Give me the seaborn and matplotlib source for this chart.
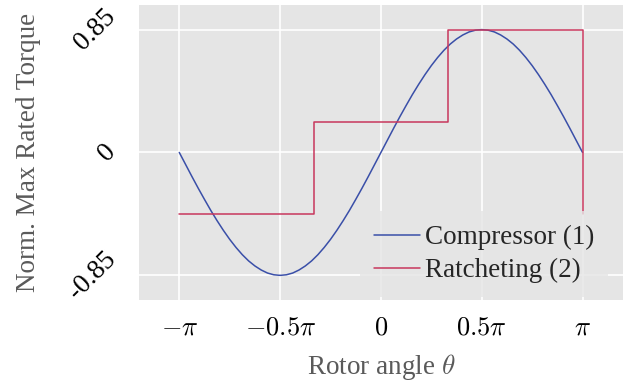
import numpy as np
import pandas as pd
import matplotlib
matplotlib.use("Agg")
import matplotlib.pyplot as plt
import seaborn as sns

# -----------------------------
# DATA
# -----------------------------
# rotor angle in units of pi, step pi/32
angle_pi = [k / 32 - 1 for k in range(65)]
compressor = [
    0.0, -0.083, -0.166, -0.247, -0.325, -0.401, -0.472, -0.539,
    -0.601, -0.657, -0.707, -0.750, -0.785, -0.813, -0.834, -0.846,
    -0.85, -0.846, -0.834, -0.813, -0.785, -0.750, -0.707, -0.657,
    -0.601, -0.539, -0.472, -0.401, -0.325, -0.247, -0.166, -0.083,
    0.0, 0.083, 0.166, 0.247, 0.325, 0.401, 0.472, 0.539,
    0.601, 0.657, 0.707, 0.750, 0.785, 0.813, 0.834, 0.846,
    0.85, 0.846, 0.834, 0.813, 0.785, 0.750, 0.707, 0.657,
    0.601, 0.539, 0.472, 0.401, 0.325, 0.247, 0.166, 0.083,
    0.0,
]
ratchet_angle_pi = [-1, -1 / 3, -1 / 3, 1 / 3, 1 / 3, 1, 1]
ratchet = [-0.425, -0.425, 0.2125, 0.2125, 0.85, 0.85, -0.425]

xtick_vals = [-1, -0.5, 0, 0.5, 1]
xtick_labels = [r"$-\pi$", r"$-0.5\pi$", r"$0$", r"$0.5\pi$", r"$\pi$"]
ytick_vals = [-0.85, 0, 0.85]
ytick_labels = ["-0.85", "0", "0.85"]

df_comp = pd.DataFrame({"theta": np.array(angle_pi) * np.pi, "torque": compressor})
df_ratch = pd.DataFrame({"theta": np.array(ratchet_angle_pi) * np.pi, "torque": ratchet})

# -----------------------------
# STYLE
# -----------------------------
sns.set_style("darkgrid", {"axes.facecolor": "#E5E5E5", "grid.color": "white"})
plt.rcParams["font.family"] = ["Liberation Serif", "DejaVu Serif"]
plt.rcParams["mathtext.fontset"] = "cm"

fig = plt.figure(figsize=(6.26, 3.87), dpi=100)
ax = fig.add_axes([0.222, 0.225, 0.773, 0.762])

sns.lineplot(data=df_comp, x="theta", y="torque", ax=ax, color="#3A4FA8",
             linewidth=1.1, label="Compressor (1)", sort=False, estimator=None)
sns.lineplot(data=df_ratch, x="theta", y="torque", ax=ax, color="#C8375D",
             linewidth=1.1, label="Ratcheting (2)", sort=False, estimator=None)

ax.set_xlim(-1.2 * np.pi, 1.2 * np.pi)
ax.set_ylim(-1.02, 1.02)
ax.set_xticks(np.array(xtick_vals) * np.pi)
ax.set_xticklabels(xtick_labels, fontsize=19)
ax.set_yticks(ytick_vals)
ax.set_yticklabels(ytick_labels, fontsize=19.5, rotation=45, va="center", ha="right")
ax.grid(True, color="white", linewidth=1.2)
ax.tick_params(axis="both", direction="out", length=7, width=1, color="#808080",
               colors="black", pad=6)
for s in ax.spines.values():
    s.set_visible(False)

ax.set_xlabel(r"Rotor angle $\theta$", fontsize=19.5, color="#5A5A5A", labelpad=9)
ax.set_ylabel("Norm. Max Rated Torque", fontsize=19.5, color="#5A5A5A", labelpad=16)

leg = ax.legend(loc="lower right", bbox_to_anchor=(0.97, 0.01), fontsize=19.5,
                frameon=True, facecolor="#E5E5E5", edgecolor="none",
                framealpha=0.8, handlelength=1.7, handletextpad=0.2,
                borderpad=0.5, labelspacing=0.3, borderaxespad=0.0)

fig.savefig("out.png", dpi=100)
